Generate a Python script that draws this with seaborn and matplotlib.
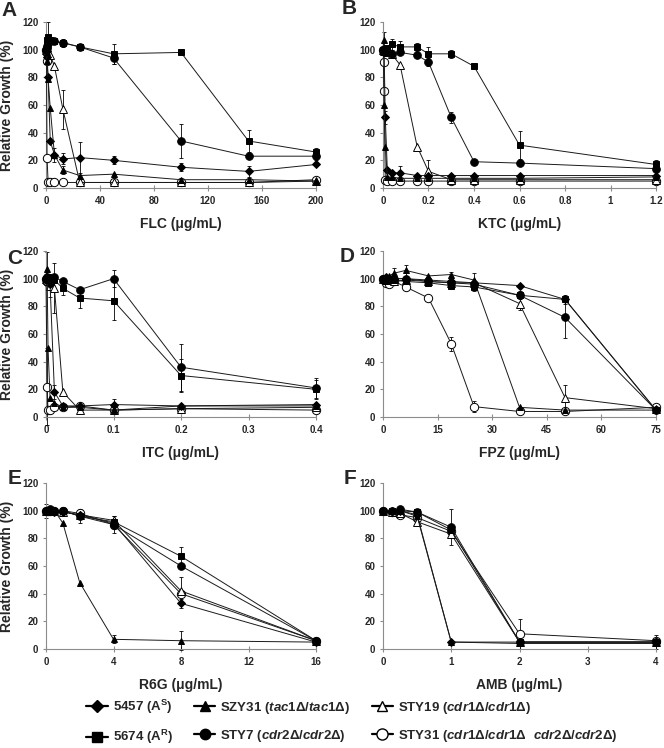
import numpy as np
import pandas as pd
import seaborn as sns
import matplotlib.pyplot as plt
from matplotlib.lines import Line2D

sns.set_style("ticks")
plt.rcParams['font.family'] = ['Liberation Sans', 'DejaVu Sans']
plt.rcParams['font.weight'] = 'bold'
plt.rcParams['mathtext.fontset'] = 'custom'
plt.rcParams['mathtext.rm'] = 'Liberation Sans:bold'
plt.rcParams['mathtext.it'] = 'Liberation Sans:italic:bold'
plt.rcParams['mathtext.bf'] = 'Liberation Sans:bold'

STRAINS = ['5457', 'SZY31', 'STY19', '5674', 'STY7', 'STY31']
DRAW_ORDER = ['STY31', 'STY19', '5457', 'SZY31', '5674', 'STY7']
LABELS = {
    '5457': '5457 (A$^{\\mathregular{S}}$)',
    'SZY31': 'SZY31 ($\\mathit{tac1Δ/tac1Δ}$)',
    'STY19': 'STY19 ($\\mathit{cdr1Δ/cdr1Δ}$)',
    '5674': '5674 (A$^{\\mathregular{R}}$)',
    'STY7': 'STY7 ($\\mathit{cdr2Δ/cdr2Δ}$)',
    'STY31': 'STY31 ($\\mathit{cdr1Δ/cdr1Δ\\ \\ cdr2Δ/cdr2Δ}$)',
}

# ---- A: fluconazole
FLC_CONC = [0, 0.39, 0.78, 1.56, 3.125, 6.25, 12.5, 25, 50, 100, 150, 200]
FLC_GROWTH = {
    '5457':  [100, 99, 95, 80, 34, 24, 21, 22, 20, 15, 12, 17],
    'SZY31': [100, 98, 92, 79, 58, 24, 13, 9, 10, 6, 6, 5],
    'STY19': [100, 100, 99, 98, 96, 88, 57, 4, 4, 4, 4, 5],
    '5674':  [100, 104, 107, 109, 107, 106, 105, 102, 97, 98, 34, 26],
    'STY7':  [100, 101, 103, 105, 106, 106, 105, 102, 94, 34, 23, 23],
    'STY31': [100, 92, 22, 4, 4, 4, 4, 4, 4, 4, 4, 6],
}
FLC_SD = {
    '5457':  [0, 0, 0, 0, 0, 5, 4, 11, 3, 3, 4, 0],
    'SZY31': [0, 0, 0, 0, 0, 0, 3, 0, 0, 0, 0, 0],
    'STY19': [0, 0, 0, 0, 0, 0, 14, 0, 0, 0, 0, 0],
    '5674':  [0, 0, 0, 11, 0, 0, 0, 0, 7, 0, 8, 3],
    'STY7':  [0, 0, 0, 0, 0, 0, 3, 0, 4, 12, 0, 3],
    'STY31': [0, 0, 0, 0, 0, 0, 0, 0, 0, 0, 0, 0],
}

# ---- B: ketoconazole
KTC_CONC = [0, 0.0025, 0.005, 0.01, 0.019, 0.0375, 0.075, 0.15, 0.2, 0.3, 0.4, 0.6, 1.2]
KTC_GROWTH = {
    '5457':  [100, 99, 98, 51, 13, 11, 11, 9, 9, 9, 9, 9, 9],
    'SZY31': [100, 107, 60, 30, 8, 8, 7, 7, 7, 7, 7, 7, 8],
    'STY19': [100, 100, 99, 99, 98, 97, 89, 30, 12, 6, 6, 6, 6],
    '5674':  [100, 99, 98, 98, 101, 104, 102, 102, 97, 97, 88, 31, 17],
    'STY7':  [100, 99, 99, 98, 99, 97, 98, 96, 91, 51, 19, 18, 14],
    'STY31': [100, 91, 70, 6, 5, 5, 5, 5, 5, 5, 5, 5, 5],
}
KTC_SD = {
    '5457':  [0, 0, 0, 5, 0, 0, 5, 0, 0, 0, 0, 0, 0],
    'SZY31': [0, 6, 0, 0, 0, 0, 0, 0, 0, 0, 0, 0, 0],
    'STY19': [0, 0, 0, 0, 0, 0, 0, 0, 8, 0, 0, 0, 0],
    '5674':  [0, 0, 0, 0, 0, 4, 4, 3, 5, 3, 0, 10, 3],
    'STY7':  [0, 0, 0, 0, 0, 0, 0, 0, 3, 4, 0, 0, 0],
    'STY31': [0, 0, 0, 0, 0, 0, 0, 0, 0, 0, 0, 0, 0],
}

# ---- C: itraconazole
ITC_CONC = [0, 0.0016, 0.003, 0.006, 0.0125, 0.025, 0.05, 0.1, 0.2, 0.4]
ITC_GROWTH = {
    '5457':  [100, 99, 98, 96, 18, 8, 8, 9, 8, 9],
    'SZY31': [100, 107, 50, 14, 10, 7, 7, 5, 8, 8],
    'STY19': [100, 99, 98, 95, 93, 18, 5, 5, 6, 7],
    '5674':  [100, 100, 101, 100, 99, 93, 86, 84, 30, 20],
    'STY7':  [100, 101, 100, 100, 101, 98, 92, 100, 36, 21],
    'STY31': [100, 22, 5, 5, 7, 7, 8, 5, 6, 5],
}
ITC_SD = {
    '5457':  [0, 0, 0, 0, 5, 0, 0, 4, 0, 0],
    'SZY31': [0, 12, 0, 0, 0, 0, 0, 0, 0, 0],
    'STY19': [0, 0, 0, 8, 18, 0, 0, 0, 0, 0],
    '5674':  [0, 0, 0, 0, 0, 5, 7, 14, 12, 7],
    'STY7':  [0, 0, 0, 0, 0, 0, 0, 6, 17, 7],
    'STY31': [0, 28, 0, 0, 0, 0, 0, 0, 0, 0],
}

# ---- D: fluphenazine
FPZ_CONC = [0, 0.4, 0.8, 1.6, 3.1, 6.25, 12.5, 18.75, 25, 37.5, 50, 75]
FPZ_GROWTH = {
    '5457':  [100, 100, 101, 100, 100, 100, 99, 98, 97, 95, 85, 5],
    'SZY31': [100, 100, 101, 102, 104, 106, 102, 103, 99, 7, 5, 5],
    'STY19': [100, 100, 99, 99, 98, 99, 98, 97, 97, 82, 14, 6],
    '5674':  [100, 100, 99, 99, 99, 98, 97, 95, 94, 88, 85, 5],
    'STY7':  [100, 100, 99, 100, 100, 100, 98, 97, 96, 88, 72, 5],
    'STY31': [100, 99, 97, 96, 98, 94, 86, 53, 7.5, 4, 4, 7],
}
FPZ_SD = {
    '5457':  [0, 0, 0, 0, 0, 0, 0, 0, 0, 0, 0, 0],
    'SZY31': [0, 0, 0, 0, 4, 4, 0, 2, 5, 0, 0, 0],
    'STY19': [0, 0, 0, 0, 0, 0, 0, 0, 0, 5, 9, 0],
    '5674':  [0, 0, 0, 0, 0, 0, 0, 0, 3, 0, 3, 0],
    'STY7':  [0, 0, 0, 0, 0, 0, 0, 0, 0, 3, 15, 0],
    'STY31': [0, 0, 0, 0, 0, 0, 0, 5, 4, 0, 0, 0],
}

# ---- E: rhodamine 6G
R6G_CONC = [0, 0.125, 0.25, 0.5, 1, 2, 4, 8, 16]
R6G_GROWTH = {
    '5457':  [100, 100, 100, 99, 99, 97, 91, 33, 5],
    'SZY31': [100, 100, 100, 100, 91, 48, 7, 6, 5],
    'STY19': [100, 100, 100, 100, 99, 97, 93, 42, 6],
    '5674':  [100, 100, 100, 100, 100, 96, 92, 67, 6],
    'STY7':  [100, 100, 101, 100, 100, 96, 90, 60, 6],
    'STY31': [100, 100, 100, 100, 100, 98, 90, 40, 6],
}
R6G_SD = {
    '5457':  [0, 0, 0, 0, 0, 0, 0, 3, 0],
    'SZY31': [0, 0, 0, 0, 0, 0, 3, 7, 0],
    'STY19': [0, 0, 0, 0, 0, 0, 0, 10, 0],
    '5674':  [5, 0, 0, 0, 0, 5, 4, 7, 0],
    'STY7':  [0, 0, 0, 0, 3, 0, 6, 0, 0],
    'STY31': [0, 0, 0, 0, 0, 0, 0, 0, 0],
}

# ---- F: amphotericin B
AMB_CONC = [0, 0.125, 0.25, 0.5, 1, 2, 4]
AMB_GROWTH = {
    '5457':  [100, 100, 100, 97, 5, 5, 5],
    'SZY31': [100, 100, 100, 96, 5, 4, 4],
    'STY19': [100, 99, 98, 92, 83, 5, 5],
    '5674':  [100, 100, 100, 99, 86, 5, 5],
    'STY7':  [100, 100, 101, 99, 88, 5, 5],
    'STY31': [100, 99, 97, 95, 85, 11, 6],
}
AMB_SD = {
    '5457':  [0, 0, 0, 0, 0, 0, 0],
    'SZY31': [0, 0, 0, 0, 0, 0, 0],
    'STY19': [0, 0, 0, 0, 0, 0, 0],
    '5674':  [0, 0, 0, 0, 0, 0, 0],
    'STY7':  [0, 0, 0, 0, 13, 0, 5],
    'STY31': [0, 0, 0, 0, 0, 11, 0],
}

STYLE = {
    '5457':  dict(marker='D', markersize=4.0, markerfacecolor='black'),
    'SZY31': dict(marker='^', markersize=5.0, markerfacecolor='black'),
    'STY19': dict(marker='^', markersize=5.5, markerfacecolor='white'),
    '5674':  dict(marker='s', markersize=4.5, markerfacecolor='black'),
    'STY7':  dict(marker='o', markersize=5.5, markerfacecolor='black'),
    'STY31': dict(marker='o', markersize=6.0, markerfacecolor='white'),
}

W, H = 664, 748
fig = plt.figure(figsize=(W / 100, H / 100), dpi=100)


def px_axes(left, top, right, bottom):
    return fig.add_axes([left / W, 1 - bottom / H, (right - left) / W, (bottom - top) / H])


def draw_panel(ax, conc, growth, sd, xticks, xlabel, ylabel):
    rows = []
    for s in STRAINS:
        for c, g, e in zip(conc, growth[s], sd[s]):
            rows.append((s, c, g, e))
    df = pd.DataFrame(rows, columns=['strain', 'conc', 'growth', 'sd'])
    for s in DRAW_ORDER:
        d = df[df.strain == s]
        e = d[d.sd > 0]
        ax.errorbar(e.conc, e.growth, yerr=e.sd, fmt='none', ecolor='black',
                    elinewidth=0.6, capsize=1.5, capthick=0.6, clip_on=False, zorder=2)
        sns.lineplot(x=d.conc.values, y=d.growth.values, ax=ax, color='#1a1a1a',
                     linewidth=0.7, markeredgecolor='black', markeredgewidth=0.7,
                     clip_on=False, zorder=3, **STYLE[s])
    ax.set_xlim(xticks[0], xticks[-1])
    ax.set_ylim(0, 120)
    ax.set_yticks(range(0, 121, 20))
    ax.set_xticks(xticks)
    ax.set_xticklabels(['%g' % t for t in xticks])
    for sp in ['top', 'right']:
        ax.spines[sp].set_visible(False)
    for sp in ['left', 'bottom']:
        ax.spines[sp].set_color('#8c8c8c')
        ax.spines[sp].set_linewidth(0.8)
    ax.tick_params(axis='x', direction='inout', length=5, width=0.8, color='#8c8c8c',
                   labelsize=7, pad=3)
    ax.tick_params(axis='y', direction='out', length=2.5, width=0.8, color='#8c8c8c',
                   labelsize=7, pad=3)
    for t in ax.get_xticklabels() + ax.get_yticklabels():
        t.set_fontweight('bold')
    ax.set_xlabel(xlabel, fontsize=10, fontweight='bold', labelpad=8)
    if ylabel:
        ax.set_ylabel('Relative Growth (%)', fontsize=10, fontweight='bold', labelpad=6)
    else:
        ax.set_ylabel('')


L0, L1 = 46, 316
R0, R1 = 383, 656
ROWS = [(22, 188), (251, 417), (483, 649)]

panels = [
    (L0, L1, ROWS[0], FLC_CONC, FLC_GROWTH, FLC_SD, [0, 40, 80, 120, 160, 200], 'FLC (μg/mL)', True, 'A', (9, 11)),
    (R0, R1, ROWS[0], KTC_CONC, KTC_GROWTH, KTC_SD, [0, 0.2, 0.4, 0.6, 0.8, 1, 1.2], 'KTC (μg/mL)', False, 'B', (349, 9)),
    (L0, L1, ROWS[1], ITC_CONC, ITC_GROWTH, ITC_SD, [0, 0.1, 0.2, 0.3, 0.4], 'ITC (μg/mL)', True, 'C', (15, 258)),
    (R0, R1, ROWS[1], FPZ_CONC, FPZ_GROWTH, FPZ_SD, [0, 15, 30, 45, 60, 75], 'FPZ (μg/mL)', False, 'D', (347, 257)),
    (L0, L1, ROWS[2], R6G_CONC, R6G_GROWTH, R6G_SD, [0, 4, 8, 12, 16], 'R6G (μg/mL)', True, 'E', (15, 478)),
    (R0, R1, ROWS[2], AMB_CONC, AMB_GROWTH, AMB_SD, [0, 1, 2, 3, 4], 'AMB (μg/mL)', False, 'F', (350, 479)),
]

for left, right, (top, bottom), conc, growth, sd, xticks, xlabel, ylab, letter, (lx, ly) in panels:
    ax = px_axes(left, top, right, bottom)
    draw_panel(ax, conc, growth, sd, xticks, xlabel, ylab)
    fig.text(lx / W, 1 - ly / H, letter, fontsize=15, fontweight='bold',
             ha='center', va='center')

# legend: column-major order so rows read 5457/SZY31/STY19 then 5674/STY7/STY31
order = ['5457', '5674', 'SZY31', 'STY7', 'STY19', 'STY31']
handles = [Line2D([], [], color='black', linewidth=1.6, markeredgecolor='black',
                  markeredgewidth=1.0, **{**STYLE[s], 'markersize': STYLE[s]['markersize'] + 2})
           for s in order]
fig.legend(handles, [LABELS[s] for s in order], ncol=3, loc='center',
           bbox_to_anchor=(0.5 + 20 / W, 1 - 722 / H), frameon=False, fontsize=9.5,
           handlelength=1.6, handletextpad=0.4, columnspacing=1.6, labelspacing=0.9)

fig.savefig('out.png', dpi=100)
